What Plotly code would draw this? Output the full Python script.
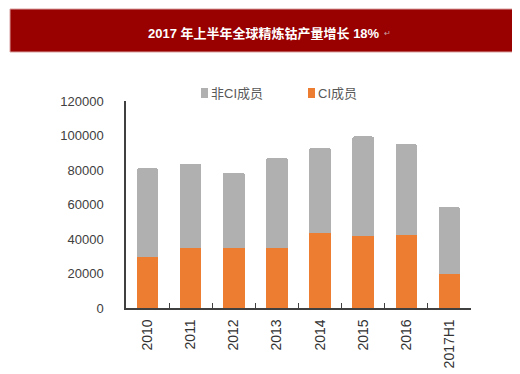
import plotly.graph_objects as go

years = ["2010", "2011", "2012", "2013", "2014", "2015", "2016", "2017H1"]
ci_members = [29500, 34500, 35000, 35000, 43500, 41500, 42500, 19500]
non_ci_members = [51500, 49000, 43500, 52000, 49500, 58000, 52500, 39000]
y_ticks = [0, 20000, 40000, 60000, 80000, 100000, 120000]
title_text = "2017 年上半年全球精炼钴产量增长 18%"
series_names = ["CI成员", "非CI成员"]
series_colors = ["#ED7D31", "#B0B0B0"]

FONT = "Liberation Sans, Arial, Noto Sans CJK SC, sans-serif"

fig = go.Figure()
fig.add_trace(go.Bar(x=years, y=ci_members, name=series_names[0], showlegend=False,
                     marker=dict(color=series_colors[0], line=dict(width=0))))
fig.add_trace(go.Bar(x=years, y=non_ci_members, name=series_names[1], showlegend=False,
                     marker=dict(color=series_colors[1], line=dict(width=0))))

W, H = 520, 374
L, R, T, B = 118, 57, 93, 74
pw, ph = W - L - R, H - T - B

def px(x):
    return (x - L) / pw

def py(y):
    return (H - B - y) / ph

shapes = [dict(type="rect", xref="paper", yref="paper",
               x0=px(2), x1=px(520), y0=py(44), y1=py(1),
               fillcolor="#990000", line=dict(color="#D9A0A0", width=1), layer="below")]
annotations = [
    dict(text="<b>" + title_text + "</b>", xref="paper", yref="paper",
         x=px(138), y=py(25), xanchor="left", yanchor="middle", showarrow=False,
         font=dict(size=13, color="white", family=FONT)),
    dict(text="↵", xref="paper", yref="paper", x=px(374), y=py(26),
         xanchor="left", yanchor="middle", showarrow=False,
         font=dict(size=8, color="#C8A0A0", family=FONT)),
]

# legend (gray first, then orange), drawn manually for exact placement
legend_items = [(series_names[1], series_colors[1], 193), (series_names[0], series_colors[0], 300)]
for name, color, lx in legend_items:
    shapes.append(dict(type="rect", xref="paper", yref="paper",
                       x0=px(lx), x1=px(lx + 7), y0=py(90), y1=py(80),
                       fillcolor=color, line=dict(width=0)))
    annotations.append(dict(text=name, xref="paper", yref="paper",
                            x=px(lx + 8), y=py(85), xanchor="left", yanchor="middle",
                            showarrow=False, font=dict(size=13, color="#595959", family=FONT)))

fig.update_layout(
    width=W, height=H,
    margin=dict(l=L, r=R, t=T, b=B),
    paper_bgcolor="white", plot_bgcolor="white",
    barmode="stack", bargap=0.5, barcornerradius=2,
    font=dict(family=FONT, color="#404040"),
    showlegend=False,
    xaxis=dict(type="category", showline=True, linecolor="#404040", linewidth=1.5,
               ticks="inside", tickson="boundaries", ticklen=5, tickcolor="#404040",
               tickangle=-90, tickfont=dict(size=14, color="#333333"),
               ticklabelstandoff=4, showgrid=False, zeroline=False),
    yaxis=dict(range=[0, 120000], tickvals=y_ticks, tickformat="d", showline=True,
               linecolor="#404040", linewidth=1.5, showgrid=False, zeroline=False,
               ticks="", tickfont=dict(size=13, color="#404040"), ticklabelstandoff=18),
    shapes=shapes,
    annotations=annotations,
)

fig.write_html("out.html")
